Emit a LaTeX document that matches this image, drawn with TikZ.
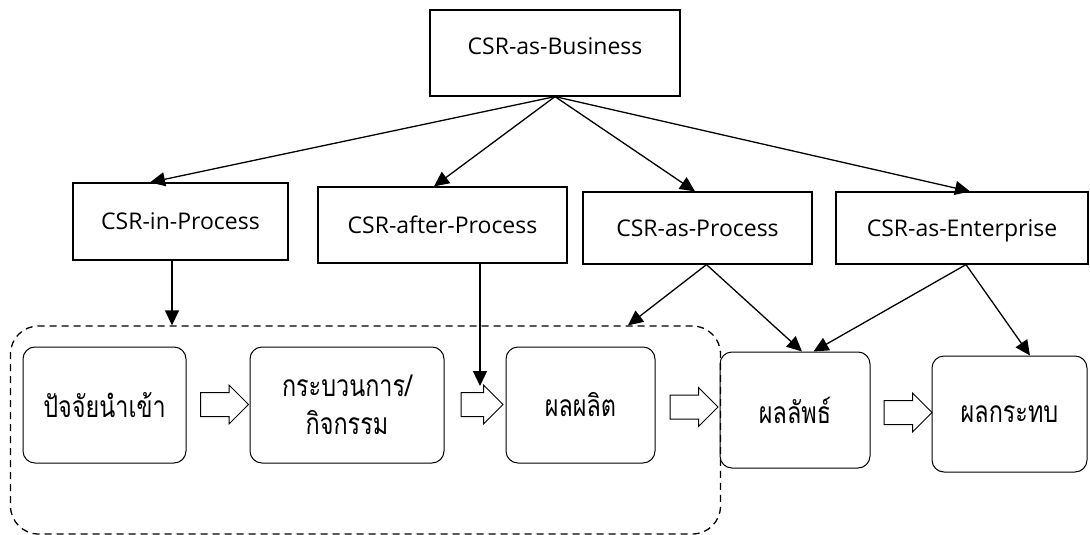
\documentclass[tikz,border=0pt]{standalone}
\usepackage{fontspec}
\setmainfont{Open Sans}
\newfontfamily\thaifont[Script=Thai,FakeStretch=0.78]{Loma}
\usetikzlibrary{arrows.meta,shapes.arrows}

\begin{document}
\begin{tikzpicture}[x=1pt,y=1pt,yscale=-1,
  csrbox/.style={draw,line width=1.2pt,inner sep=0pt,text depth=0pt,font=\fontsize{23}{28}\selectfont},
  stagebox/.style={draw,line width=1pt,rounded corners=12pt,inner sep=0pt,align=center,font=\thaifont\fontsize{30}{38}\selectfont},
  blockarrow/.style={draw,line width=1pt,single arrow,single arrow head extend=7.5pt,minimum height=48pt,inner xsep=0pt,inner ysep=11.5pt},
  link/.style={-{Triangle[length=15pt,width=14pt]},line width=1.3pt}]
\useasboundingbox (0,0) rectangle (1090,535);

% top level
\node[csrbox,minimum width=250pt,minimum height=86pt,text depth=14pt] (biz) at (555,53) {CSR-as-Business};

% CSR types
\node[csrbox,minimum width=215pt,minimum height=77pt] (inproc) at (180.5,221.5) {CSR-in-Process};
\node[csrbox,minimum width=249pt,minimum height=76pt] (afterproc) at (442.5,225) {CSR-after-Process};
\node[csrbox,minimum width=229pt,minimum height=72pt] (asproc) at (697.5,228) {CSR-as-Process};
\node[csrbox,minimum width=252pt,minimum height=72pt] (asent) at (962,228) {CSR-as-Enterprise};

% dashed group round the first three stages
\node[draw,dash pattern=on 7pt off 5pt,line width=1.3pt,rounded corners=28pt,minimum width=710pt,minimum height=208pt] (stagegroup) at (365.5,430) {};

% stages
\node[stagebox,minimum width=163pt,minimum height=116pt] (input) at (104.5,405) {ปัจจัยนำเข้า};
\node[stagebox,minimum width=194pt,minimum height=116pt] (activity) at (347,405) {กระบวนการ/\\กิจกรรม};
\node[stagebox,minimum width=149pt,minimum height=116pt] (output) at (580.5,405) {ผลผลิต};
\node[stagebox,minimum width=150pt,minimum height=116pt] (outcome) at (795,410) {ผลลัพธ์};
\node[stagebox,minimum width=155pt,minimum height=116pt] (impact) at (1009.5,414) {ผลกระทบ};

% block arrows between stages
\node[blockarrow] (flowa) at (218.5,404.5) {};
\node[blockarrow,minimum height=42pt] (flowb) at (476,404.5) {};
\node[blockarrow] (flowc) at (688,407) {};
\node[blockarrow] (flowd) at (902,412.5) {};
\coordinate (hit) at (480,386);

% links
\draw[link] (biz.south) -- ([xshift=-30.5pt]inproc.north);
\draw[link] (biz.south) -- ([xshift=-8.5pt]afterproc.north);
\draw[link] (biz.south) -- ([xshift=-2.5pt]asproc.north);
\draw[link] (biz.south) -- ([xshift=8pt]asent.north);
\draw[link] ([xshift=-8.5pt]inproc.south) -- ([xshift=-8.5pt]inproc.south |- stagegroup.north);
\draw[link] ([xshift=37.5pt]afterproc.south) -- (hit);
\draw[link] ([xshift=9pt]asproc.south) -- ([xshift=262.5pt]stagegroup.north);
\draw[link] ([xshift=9pt]asproc.south) -- ([xshift=7pt]outcome.north);
\draw[link] ([xshift=4pt]asent.south) -- ([xshift=18.5pt]outcome.north);
\draw[link] ([xshift=4pt]asent.south) -- ([xshift=20.5pt]impact.north);

\end{tikzpicture}
\end{document}
